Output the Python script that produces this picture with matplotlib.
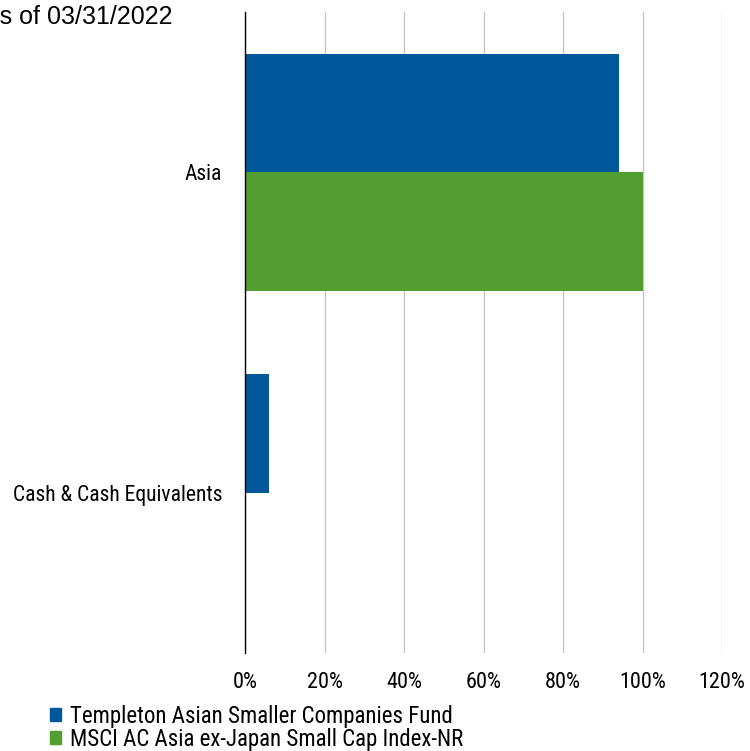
import numpy as np
import matplotlib.pyplot as plt
from matplotlib.patches import Patch

categories = ['Asia', 'Cash & Cash Equivalents']
fund_values = [94.0, 6.0]
index_values = [100.0, 0.0]
series_names = ['Templeton Asian Smaller Companies Fund',
                'MSCI AC Asia ex-Japan Small Cap Index-NR']
x_ticks = [0, 20, 40, 60, 80, 100, 120]

blue = '#00589a'
green = '#529e30'
narrow = ['Roboto Condensed', 'Liberation Sans', 'DejaVu Sans']
fs = 16

fig = plt.figure(figsize=(7.5, 7.51), dpi=100)
ax = fig.add_axes([0.3267, 0.1305, 0.636, 0.8535])

y = np.arange(len(categories))
h = 0.37
ax.barh(y - h / 2, fund_values, height=h, color=blue, zorder=3)
ax.barh(y + h / 2, index_values, height=h, color=green, zorder=3)

ax.set_ylim(len(categories) - 0.5, -0.5)
ax.set_xlim(0, 120)
ax.set_xticks(x_ticks)
ax.set_xticklabels([f'{t}%' for t in x_ticks], family=narrow, fontsize=fs)
ax.set_yticks(y)
ax.set_yticklabels(categories, family=narrow, fontsize=15.5)
ax.tick_params(axis='x', length=0, pad=14)
ax.tick_params(axis='y', length=0, pad=16.5)
ax.grid(axis='x', color='#c8c8c8', linewidth=1, zorder=0)
for s in ['top', 'right', 'bottom']:
    ax.spines[s].set_visible(False)
ax.spines['left'].set_color('black')
ax.spines['left'].set_linewidth(1)
ax.spines['left'].set_zorder(4)

fig.text(172 / 750, 1 - 17 / 751, 'Geographic Allocation as of 03/31/2022',
         ha='right', va='center', fontsize=18, family='Liberation Sans')

# small square markers, labels packed tight under the axis
handles = [Patch(color=blue), Patch(color=green)]
fig.legend(handles, series_names, loc='upper left', bbox_to_anchor=(50 / 750, 1 - 705 / 751),
           frameon=False, prop={'family': narrow, 'size': 16.5},
           handlelength=0.48, handleheight=0.48, handletextpad=0.38,
           labelspacing=0.0, borderaxespad=0, borderpad=0)

fig.savefig('out.png', dpi=100)
